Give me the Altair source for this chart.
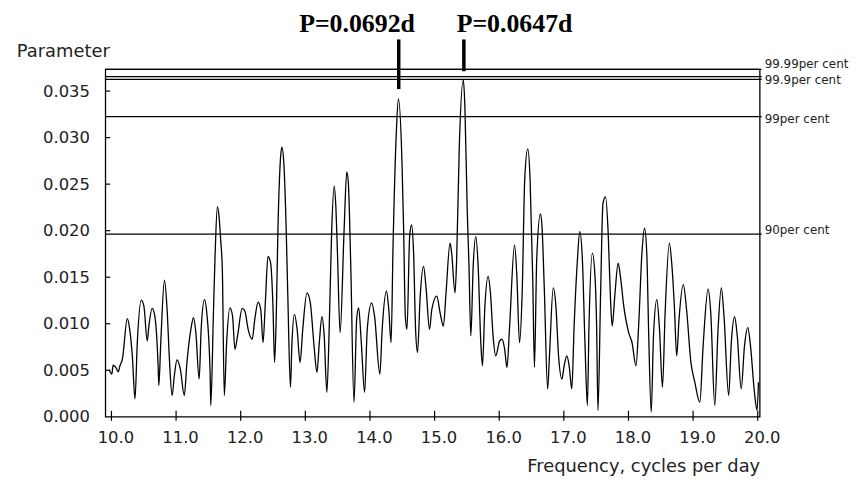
import altair as alt
import pandas as pd

# ---- periodogram: frequency (c/d) and parameter ----
freq = [
    9.965, 10.006, 10.026, 10.067, 10.108, 10.129, 10.169, 10.246, 10.282, 10.323,
    10.364, 10.400, 10.461, 10.502, 10.554, 10.579, 10.630, 10.671, 10.722, 10.733,
    10.763, 10.820, 10.861, 10.897, 10.938, 10.973, 11.014, 11.066, 11.127, 11.168,
    11.229, 11.270, 11.306, 11.357, 11.388, 11.440, 11.475, 11.526, 11.537, 11.578,
    11.603, 11.639, 11.665, 11.690, 11.716, 11.746, 11.782, 11.833, 11.874, 11.910,
    11.951, 12.023, 12.064, 12.115, 12.177, 12.218, 12.269, 12.310, 12.345, 12.381,
    12.422, 12.463, 12.499, 12.524, 12.550, 12.576, 12.617, 12.637, 12.668, 12.704,
    12.729, 12.770, 12.791, 12.832, 12.873, 12.919, 12.960, 13.026, 13.077, 13.139,
    13.180, 13.216, 13.257, 13.292, 13.333, 13.369, 13.405, 13.446, 13.472, 13.497,
    13.538, 13.600, 13.641, 13.666, 13.702, 13.753, 13.794, 13.825, 13.866, 13.917,
    13.958, 14.025, 14.071, 14.153, 14.189, 14.255, 14.291, 14.327, 14.357, 14.409,
    14.440, 14.496, 14.521, 14.547, 14.573, 14.614, 14.644, 14.675, 14.706, 14.736,
    14.777, 14.829, 14.870, 14.921, 14.957,
    15.034, 15.085, 15.136, 15.177, 15.239, 15.264, 15.316, 15.341, 15.382, 15.445,
    15.469, 15.505, 15.531, 15.561, 15.597, 15.638, 15.674, 15.715, 15.741, 15.776,
    15.828, 15.864, 15.905, 15.945, 16.007, 16.043, 16.084, 16.120, 16.161, 16.237,
    16.273, 16.314, 16.355, 16.396, 16.442, 16.478, 16.519, 16.545, 16.580, 16.637,
    16.662, 16.698, 16.749, 16.775, 16.836, 16.877, 16.918, 16.970, 17.005, 17.046,
    17.082, 17.123, 17.159, 17.210, 17.246, 17.287, 17.328, 17.364, 17.389, 17.441,
    17.482, 17.507, 17.528, 17.569, 17.605, 17.645, 17.686, 17.722, 17.748,
    17.788, 17.840, 17.875, 17.927, 18.003, 18.055, 18.116, 18.157, 18.208, 18.249,
    18.285, 18.311, 18.352, 18.387, 18.439, 18.480, 18.526, 18.567, 18.633, 18.669,
    18.710, 18.746, 18.782, 18.848, 18.899, 18.966, 19.027, 19.104, 19.155, 19.232,
    19.273, 19.335, 19.386, 19.437, 19.478, 19.550, 19.591, 19.642, 19.683, 19.744,
    19.795, 19.847, 19.888, 19.949, 19.990, 20.011,
]
power = [
    0.00506, 0.00459, 0.00555, 0.00530, 0.00484, 0.00541, 0.00619, 0.01054, 0.00940, 0.00655,
    0.00192, 0.00797, 0.01253, 0.01189, 0.00815, 0.00975, 0.01164, 0.01082, 0.00548, 0.00335,
    0.00797, 0.01467, 0.01153, 0.00619, 0.00228, 0.00441, 0.00612, 0.00513, 0.00228, 0.00584,
    0.00940, 0.01064, 0.00904, 0.00406, 0.00940, 0.01260, 0.01118, 0.00484, 0.00121, 0.01118,
    0.01723, 0.02257, 0.02150, 0.01901, 0.01581, 0.00228, 0.00797, 0.01171, 0.01082, 0.00726,
    0.00869, 0.01164, 0.01136, 0.00940, 0.00833, 0.01047, 0.01232, 0.01153, 0.00797, 0.01225,
    0.01723, 0.01652, 0.01189, 0.00584, 0.01082, 0.02008, 0.02791, 0.02898, 0.02720, 0.02008,
    0.01296, 0.00317, 0.00762, 0.01100, 0.00940, 0.00584, 0.00940, 0.01331, 0.01225, 0.00726,
    0.00477, 0.00797, 0.01075, 0.00869, 0.00263, 0.00940, 0.01937, 0.02478, 0.02257, 0.01759,
    0.00904, 0.02008, 0.02631, 0.02506, 0.01652, 0.00157, 0.01047, 0.01171, 0.00797, 0.00263,
    0.00940, 0.01225, 0.01082, 0.00459, 0.00940, 0.01349, 0.01153, 0.00797, 0.01830, 0.03076,
    0.03415, 0.02720, 0.02008, 0.01082, 0.00940, 0.01937, 0.02061, 0.01759, 0.00940, 0.00691,
    0.01296, 0.01616, 0.01367, 0.00940, 0.01153,
    0.01296, 0.01118, 0.00975, 0.01331, 0.01865, 0.01759, 0.01331, 0.01687, 0.02898, 0.03620,
    0.03325, 0.02222, 0.01652, 0.00869, 0.01616, 0.01937, 0.01616, 0.00797, 0.00548, 0.01153,
    0.01509, 0.01331, 0.00869, 0.00655, 0.00815, 0.00833, 0.00726, 0.00530, 0.00975, 0.01848,
    0.01509, 0.00797, 0.01331, 0.02578, 0.02880, 0.02542, 0.01474, 0.00530, 0.01687, 0.02179,
    0.02044, 0.01367, 0.00299, 0.00619, 0.01385, 0.01189, 0.00655, 0.00406, 0.00548, 0.00655,
    0.00548, 0.00299, 0.00975, 0.01687, 0.01990, 0.01687, 0.00762, 0.00121, 0.00975, 0.01759,
    0.01509, 0.00975, 0.00068, 0.01331, 0.02293, 0.02364, 0.01972, 0.01260, 0.00975,
    0.01296, 0.01652, 0.01509, 0.01189, 0.00904, 0.00797, 0.00548, 0.00975, 0.01759, 0.02026,
    0.01723, 0.00940, 0.00050, 0.00869, 0.01260, 0.00940, 0.00317, 0.01118, 0.01866, 0.01652,
    0.01189, 0.00655, 0.01047, 0.01420, 0.01153, 0.00584, 0.00370, 0.00157, 0.00762, 0.01374,
    0.01118, 0.00121, 0.00940, 0.01385, 0.01082, 0.00228, 0.00797, 0.01075, 0.00869, 0.00299,
    0.00762, 0.00958, 0.00762, 0.00263, 0.00068, 0.00370,
]

# significance levels
level_values = [0.03735, 0.03656, 0.03626, 0.03225, 0.01962]
level_labels = ["99.99per cent", "", "99.9per cent", "99per cent", "90per cent"]
level_label_dy = [-5, 0, 1, 2, -4]

# marked peaks
peak_freq = [14.445, 15.453]
peak_text = ["P=0.0692d", "P=0.0647d"]
peak_text_dx = [-42, 51]
peak_rule_end = [20, 2]

x_ticks = [10.0, 11.0, 12.0, 13.0, 14.0, 15.0, 16.0, 17.0, 18.0, 19.0, 20.0]
y_ticks = [0.0, 0.005, 0.010, 0.015, 0.020, 0.025, 0.030, 0.035]

W, H = 659, 350
X_DOMAIN = [9.905, 20.03]
Y_DOMAIN = [0.0, 0.03735]
FONT = "DejaVu Sans"
TXT = "#222222"

curve_df = pd.DataFrame({"f": freq, "p": power})
xs = alt.Scale(domain=X_DOMAIN, nice=False, zero=False)
ys = alt.Scale(domain=Y_DOMAIN, nice=False, zero=False)

x_axis = alt.Axis(
    values=x_ticks, format=".1f", ticks=False, tickSize=0, domain=False, grid=False,
    labelFont=FONT, labelFontSize=16.5, labelColor=TXT, labelPadding=26,
    labelBaseline="alphabetic", labelOffset=4, labelFlush=False,
    title="Frequency, cycles per day", titleFont=FONT, titleFontSize=18,
    titleFontWeight="normal", titleColor=TXT, titleAnchor="end", titleAlign="right",
    titleX=W, titleY=55, titleBaseline="alphabetic",
)
y_axis = alt.Axis(
    values=y_ticks, format=".3f", ticks=False, tickSize=0, domain=False, grid=False,
    labelFont=FONT, labelFontSize=16.5, labelColor=TXT, labelPadding=16,
    labelFlush=False,
    title="Parameter", titleFont=FONT, titleFontSize=18, titleFontWeight="normal",
    titleColor=TXT, titleAngle=0, titleAlign="right", titleX=4, titleY=-13,
    titleBaseline="alphabetic",
)

curve = alt.Chart(curve_df).mark_line(
    color="black", strokeWidth=1.3, interpolate="monotone"
).encode(
    x=alt.X("f:Q", scale=xs, axis=x_axis),
    y=alt.Y("p:Q", scale=ys, axis=y_axis),
)

lvl_df = pd.DataFrame({"v": level_values, "lab": level_labels})
level_lines = alt.Chart(lvl_df).mark_rule(color="black", strokeWidth=1.2).encode(
    y=alt.Y("v:Q", scale=ys),
    x=alt.value(0),
    x2=alt.value(W + 2),
)

label_layers = []
for v, lab, dy in zip(level_values, level_labels, level_label_dy):
    if not lab:
        continue
    d = pd.DataFrame({"v": [v], "lab": [lab]})
    label_layers.append(
        alt.Chart(d).mark_text(
            align="left", baseline="middle", font=FONT, fontSize=12, color=TXT, dy=dy
        ).encode(y=alt.Y("v:Q", scale=ys), x=alt.value(W + 5), text="lab:N")
    )

xt_df = pd.DataFrame({"t": x_ticks})
x_tick_marks = alt.Chart(xt_df).mark_rule(color="black", strokeWidth=1.2).encode(
    x=alt.X("t:Q", scale=xs), y=alt.value(H - 6), y2=alt.value(H + 4)
)
yt_df = pd.DataFrame({"t": y_ticks[1:]})
y_tick_marks = alt.Chart(yt_df).mark_rule(color="black", strokeWidth=1.2).encode(
    y=alt.Y("t:Q", scale=ys), x=alt.value(0), x2=alt.value(5)
)

peak_layers = []
for f, txt, dx, end in zip(peak_freq, peak_text, peak_text_dx, peak_rule_end):
    d = pd.DataFrame({"f": [f], "txt": [txt]})
    peak_layers.append(
        alt.Chart(d).mark_rule(color="black", strokeWidth=3.5).encode(
            x=alt.X("f:Q", scale=xs), y=alt.value(-30), y2=alt.value(end)
        )
    )
    peak_layers.append(
        alt.Chart(d).mark_text(
            font="Liberation Serif", fontSize=26, fontWeight="bold", color="black",
            align="center", baseline="alphabetic", dx=dx
        ).encode(x=alt.X("f:Q", scale=xs), y=alt.value(-37), text="txt:N")
    )

chart = alt.layer(
    level_lines, curve, x_tick_marks, y_tick_marks, *label_layers, *peak_layers
).properties(
    width=W, height=H,
    autosize=alt.AutoSizeParams(type="none"),
    padding={"left": 98, "top": 60, "right": 96, "bottom": 61},
    background="white",
).configure_view(stroke="black", strokeWidth=1.3)

chart.save("out.html", embed_options={"renderer": "svg", "actions": False})
